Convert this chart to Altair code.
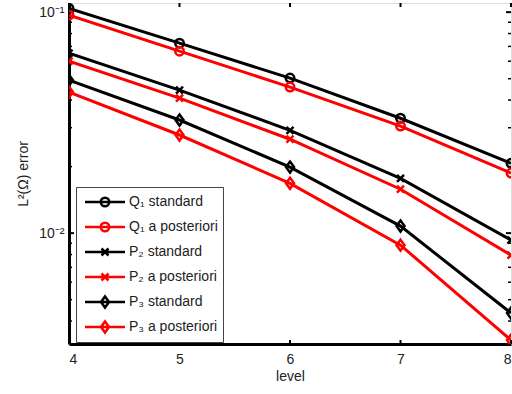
import altair as alt
import pandas as pd

levels = [4, 5, 6, 7, 8]
series_names = ["Q₁ standard", "Q₁ a posteriori", "P₂ standard",
                "P₂ a posteriori", "P₃ standard", "P₃ a posteriori"]
q1_standard = [0.104, 0.0724, 0.0503, 0.0331, 0.0207]
q1_posteriori = [0.0969, 0.0666, 0.0458, 0.0305, 0.0187]
p2_standard = [0.0652, 0.0444, 0.0292, 0.0177, 0.0093]
p2_posteriori = [0.0600, 0.0408, 0.0266, 0.0158, 0.00795]
p3_standard = [0.0492, 0.0325, 0.0199, 0.01076, 0.00435]
p3_posteriori = [0.0435, 0.0278, 0.0168, 0.00882, 0.00328]
series_values = [q1_standard, q1_posteriori, p2_standard,
                 p2_posteriori, p3_standard, p3_posteriori]
series_colors = ["#000000", "#ff0000", "#000000", "#ff0000", "#000000", "#ff0000"]

y_major = [0.01, 0.1]
y_minor = [0.004, 0.005, 0.006, 0.007, 0.008, 0.009,
           0.02, 0.03, 0.04, 0.05, 0.06, 0.07, 0.08, 0.09]
x_ticks = [4, 5, 6, 7, 8]

CIRCLE = "M0.85,0A0.85,0.85 0 1,1 -0.85,0A0.85,0.85 0 1,1 0.85,0Z"
XMARK = "M-0.7,-0.7L0.7,0.7M-0.7,0.7L0.7,-0.7"
DIAMOND = "M0,-1.1L0.8,0L0,1.1L-0.8,0Z"
plot_shapes = [CIRCLE, CIRCLE, XMARK, XMARK, DIAMOND, DIAMOND]
LINE = "M-4,0L4,0"
legend_shapes = [LINE + s for s in plot_shapes]

rows = []
for name, vals, col, shp in zip(series_names, series_values, series_colors, plot_shapes):
    for lv, v in zip(levels, vals):
        rows.append({"series": name, "level": lv, "error": v, "col": col, "shp": shp})
df = pd.DataFrame(rows)

W, H = 442, 341
FONT = "Liberation Sans"

xs = alt.Scale(domain=[4, 8], nice=False, zero=False)
ys = alt.Scale(type="log", domain=[0.00315, 0.11], nice=False)

base = alt.Chart(df)

lines = base.mark_line(strokeWidth=3, clip=True).encode(
    x=alt.X("level:Q", scale=xs,
            axis=alt.Axis(values=x_ticks, title="level", tickSize=0, grid=False,
                          labelPadding=8, titlePadding=3, format="d",
                          labelFont=FONT, labelFontSize=14, labelColor="#222222",
                          titleFont=FONT, titleFontSize=14, titleFontWeight="normal",
                          titleColor="#222222", domainWidth=3, domainColor="black")),
    y=alt.Y("error:Q", scale=ys,
            axis=alt.Axis(values=y_major, title="L²(Ω) error", tickSize=0, grid=False,
                          labelExpr="datum.value > 0.05 ? '10⁻¹' : '10⁻²'",
                          labelPadding=5, titlePadding=8,
                          labelFont=FONT, labelFontSize=14, labelColor="#222222",
                          titleFont=FONT, titleFontSize=14, titleFontWeight="normal",
                          titleColor="#222222", domainWidth=3, domainColor="black")),
    color=alt.Color("col:N", scale=None, legend=None),
    detail="series:N",
)

points = base.mark_point(filled=False, strokeWidth=2.5, size=100, opacity=1, clip=True).encode(
    x=alt.X("level:Q", scale=xs),
    y=alt.Y("error:Q", scale=ys),
    color=alt.Color("col:N", scale=None, legend=None),
    shape=alt.Shape("shp:N", scale=None, legend=None),
)

legend_layer = base.mark_point(filled=False, strokeWidth=2.5, size=100, opacity=0).encode(
    x=alt.X("level:Q", scale=xs),
    y=alt.Y("error:Q", scale=ys),
    color=alt.Color("series:N", scale=alt.Scale(domain=series_names, range=series_colors),
                    legend=alt.Legend(title=None, orient="none", legendX=7, legendY=184,
                                      padding=5, clipHeight=20, rowPadding=5,
                                      symbolOffset=17, labelOffset=17,
                                      symbolStrokeWidth=2.5, symbolOpacity=1,
                                      labelFontSize=14, labelFont=FONT, labelColor="#222222",
                                      strokeColor="#444444", fillColor="white",
                                      labelLimit=300)),
    shape=alt.Shape("series:N", scale=alt.Scale(domain=series_names, range=legend_shapes)),
)

tick_df_minor = pd.DataFrame({"v": y_minor})
tick_df_major = pd.DataFrame({"v": y_major})
tick_df_x = pd.DataFrame({"v": x_ticks})

left_minor = alt.Chart(tick_df_minor).mark_rule(color="black", strokeWidth=1.5).encode(
    y=alt.Y("v:Q", scale=ys), x=alt.datum(4, scale=xs), x2=alt.value(3))
right_minor = alt.Chart(tick_df_minor).mark_rule(color="black", strokeWidth=1.5).encode(
    y=alt.Y("v:Q", scale=ys), x=alt.datum(8, scale=xs), x2=alt.value(W - 3))
left_major = alt.Chart(tick_df_major).mark_rule(color="black", strokeWidth=2).encode(
    y=alt.Y("v:Q", scale=ys), x=alt.datum(4, scale=xs), x2=alt.value(5))
right_major = alt.Chart(tick_df_major).mark_rule(color="black", strokeWidth=2).encode(
    y=alt.Y("v:Q", scale=ys), x=alt.datum(8, scale=xs), x2=alt.value(W - 5))
bottom_ticks = alt.Chart(tick_df_x).mark_rule(color="black", strokeWidth=2).encode(
    x=alt.X("v:Q", scale=xs), y=alt.value(H), y2=alt.value(H - 4))
top_ticks = alt.Chart(tick_df_x).mark_rule(color="black", strokeWidth=2).encode(
    x=alt.X("v:Q", scale=xs), y=alt.value(0), y2=alt.value(4))

chart = alt.layer(
    left_minor, right_minor, left_major, right_major, bottom_ticks, top_ticks,
    lines, points, legend_layer
).resolve_scale(color="independent", shape="independent").properties(
    width=W, height=H,
    autosize=alt.AutoSizeParams(type="none"),
    padding={"left": 69, "top": 3, "right": 1, "bottom": 50},
).configure_view(stroke="black", strokeWidth=2).configure(background="white")

chart.save("out.html", embed_options={"renderer": "svg", "actions": False})
